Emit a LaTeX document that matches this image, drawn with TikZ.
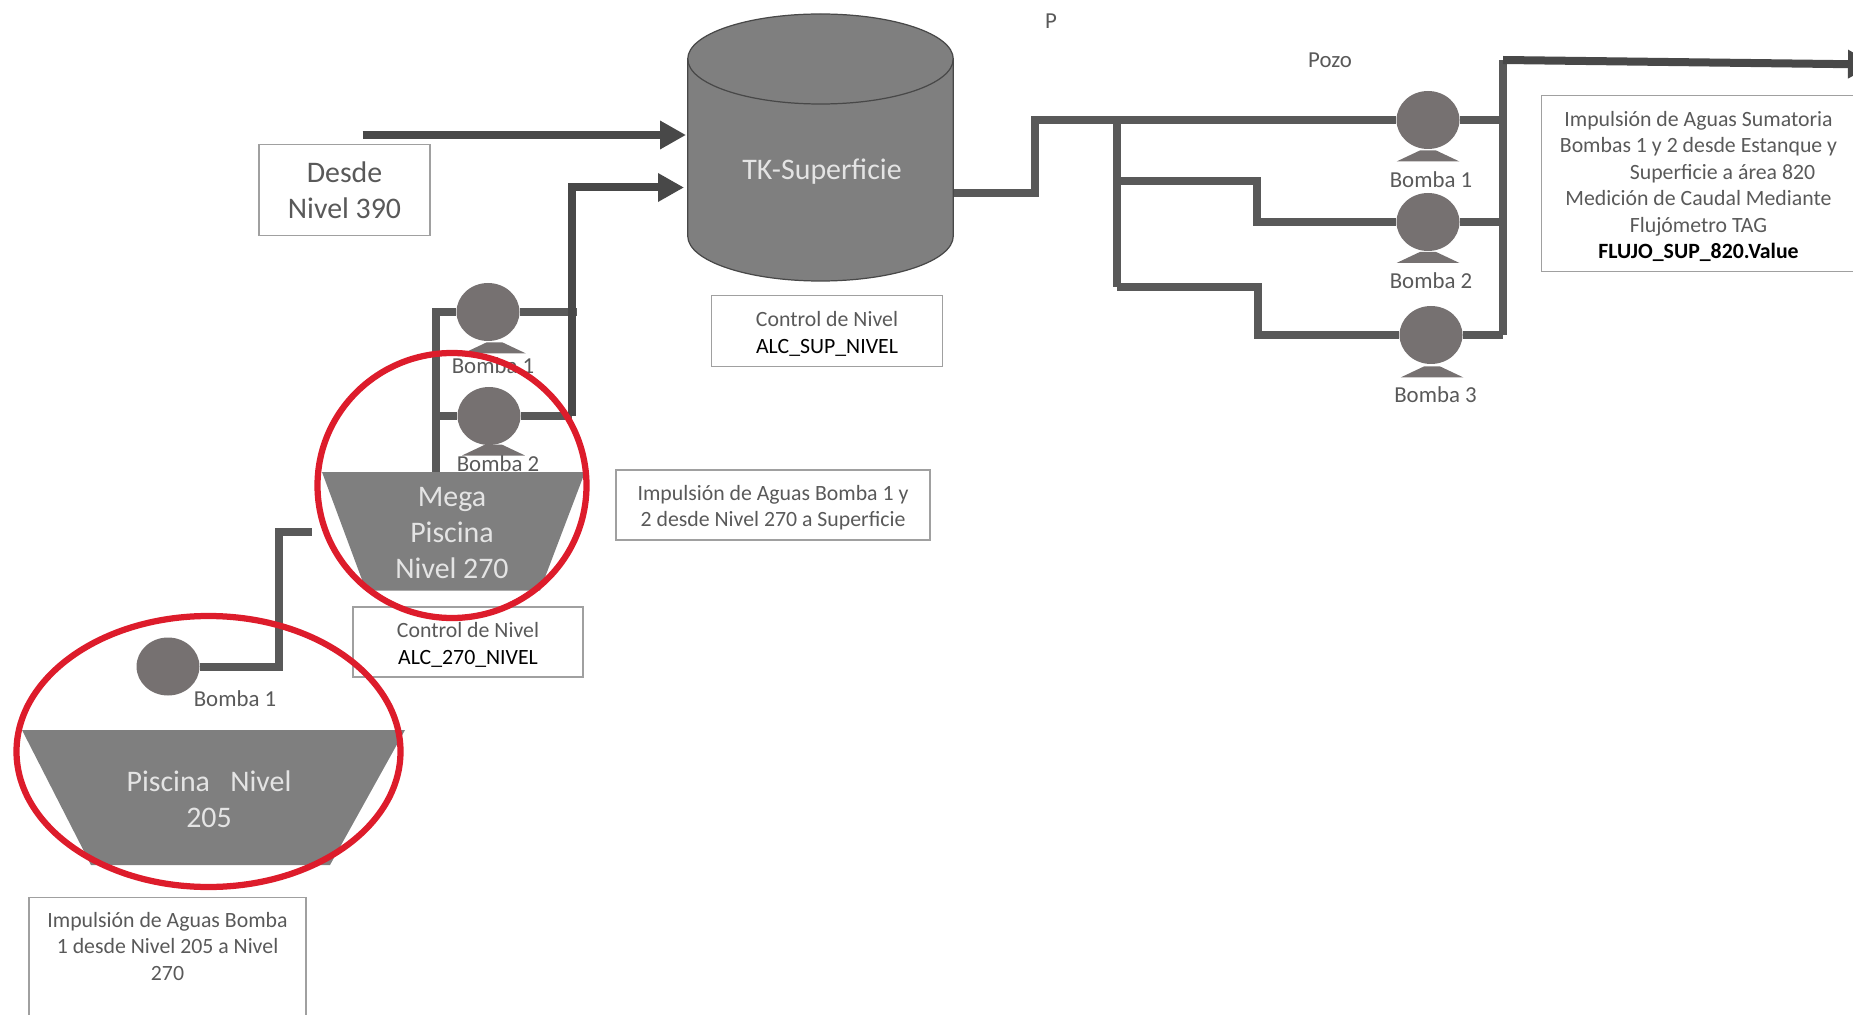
\documentclass[tikz,border=0pt]{standalone}
\usepackage{fontspec}
\setmainfont{Carlito}
\usetikzlibrary{arrows.meta}
\usetikzlibrary{shapes.geometric}
\definecolor{tubo}{HTML}{595959}
\definecolor{flecha}{HTML}{484848}
\definecolor{estanque}{HTML}{7F7F7F}
\definecolor{bomba}{HTML}{767171}
\definecolor{borde}{HTML}{A0A0A0}
\definecolor{texto}{HTML}{595959}
\definecolor{claro}{HTML}{E4E4E4}
\definecolor{rojo}{HTML}{DD1C2B}
\newcommand{\altura}{\rule{0pt}{12pt}}
\tikzset{
  tuberia/.style={draw=tubo, line width=0.16cm},
  entrada/.style={draw=flecha, line width=0.16cm, -{Triangle[length=0.52cm,width=0.54cm]}},
  caja/.style={draw=borde, line width=0.8pt, align=center, text=texto, inner sep=0pt, font=\fontsize{12.4}{15}\selectfont},
  rotulo/.style={text=texto, inner sep=0pt, font=\fontsize{13}{15}\selectfont},
  motor/.style={ellipse, fill=bomba, inner sep=0pt, minimum width=1.26cm, minimum height=1.16cm},
  pata/.style={trapezium, fill=bomba, inner sep=1pt, trapezium stretches=true, trapezium angle=35, minimum width=1.26cm, minimum height=0.22cm},
  estanquefig/.style={fill=estanque},
  leyenda/.style={align=center, text=claro, inner sep=0pt, font=\fontsize{17}{20.4}\selectfont},
  tapa/.style={draw=flecha, line width=0.7pt},
  marca/.style={ellipse, draw=rojo, line width=0.125cm, inner sep=0pt}
}
\begin{document}
\begin{tikzpicture}
        \useasboundingbox (0,0) rectangle (37.06,-20.3);
        \clip (0,0) rectangle (37.06,-20.3);

        \filldraw[tapa, fill=estanque] (13.755,-1.18) arc[start angle=180, end angle=0, x radius=2.655, y radius=0.9] -- (19.065,-4.72) arc[start angle=0, end angle=-180, x radius=2.655, y radius=0.9] -- cycle;
        \draw[tapa] (13.755,-1.18) arc[start angle=180, end angle=360, x radius=2.655, y radius=0.9];
        \node[leyenda] at (16.44,-3.43) (tknombre){TK-Superficie};
        \node[caja, minimum width=3.42cm, minimum height=1.82cm, font=\fontsize{17}{20.4}\selectfont] at (6.89,-3.8) (desde){Desde\\Nivel 390};
        \node[caja, minimum width=4.61cm, minimum height=1.41cm] at (16.54,-6.62) (ctrlsup){\altura Control de Nivel\\\textcolor{black}{ALC\_SUP\_NIVEL}};
        \node[caja, minimum width=6.28cm, minimum height=1.4cm] at (15.46,-10.1) (imp270){\altura Impulsión de Aguas Bomba 1 y\\2 desde Nivel 270 a Superficie};
        \node[caja, minimum width=4.6cm, minimum height=1.4cm] at (9.36,-12.84) (ctrl270){\altura Control de Nivel\\\textcolor{black}{ALC\_270\_NIVEL}};
        \node[caja, anchor=north, minimum width=5.54cm, minimum height=3cm] at (3.35,-17.94) (imp205){Impulsión de Aguas Bomba\\1 desde Nivel 205 a Nivel\\270\\~\\~};
        \node[caja, minimum width=6.28cm, minimum height=3.53cm] at (33.97,-3.67) (imp820){\altura Impulsión de Aguas Sumatoria\\Bombas 1 y 2 desde Estanque y\\\hspace*{0.96cm}Superficie a área 820\\Medición de Caudal Mediante\\Flujómetro TAG\\\textcolor{black}{\textbf{FLUJO\_SUP\_820.Value}}};

        \node[motor] at (3.36,-13.33) (b205){};
        \node[motor] at (9.76,-6.24) (b1n270){};
        \node[motor] at (9.78,-8.32) (b2n270){};
        \node[motor] at (28.56,-2.4) (b1sup){};
        \node[motor] at (28.56,-4.44) (b2sup){};
        \node[motor] at (28.62,-6.7) (b3sup){};
        \node[pata] at (9.89,-6.96) (p1n270){};
        \node[pata] at (9.87,-9.0) (p2n270){};
        \node[pata] at (28.56,-3.12) (p1sup){};
        \node[pata] at (28.56,-5.15) (p2sup){};
        \node[pata] at (28.64,-7.44) (p3sup){};

        \coordinate (codo205) at (5.58,-10.64);
        \coordinate (fin205) at (6.24,-10.64);
        \draw[tuberia] (b205) -| (codo205) -- (fin205);

        \coordinate (col270) at (8.72,-9.44);
        \coordinate (junta1) at (11.54,-6.24);
        \coordinate (junta2) at (11.43,-8.32);
        \coordinate (col270b) at (8.72,-8.32);
        \coordinate (llega2) at (13.68,-3.75);
        \draw[tuberia] (col270) |- (b1n270);
        \draw[tuberia] (col270b) -- (b2n270);
        \draw[tuberia] (b1n270) -- (junta1);
        \draw[tuberia] (b2n270) -- (junta2);
        \draw[entrada] (junta2) |- (llega2);

        \coordinate (sale390) at (7.25,-2.7);
        \coordinate (llega1) at (13.72,-2.7);
        \draw[entrada] (sale390) -- (llega1);

        \coordinate (saletk) at (19.07,-3.86);
        \coordinate (codosal) at (20.7,-2.4);
        \coordinate (ramaa) at (22.34,-2.4);
        \coordinate (ramab) at (22.34,-3.62);
        \coordinate (ramac) at (22.34,-5.74);
        \coordinate (codob) at (25.14,-4.44);
        \coordinate (codoc) at (25.16,-6.7);
        \coordinate (mani1) at (30.06,-2.4);
        \coordinate (mani2) at (30.06,-4.44);
        \coordinate (mani3) at (30.06,-6.7);
        \coordinate (maniarr) at (30.06,-1.2);
        \coordinate (fin820) at (37.48,-1.29);
        \draw[tuberia] (saletk) -| (codosal) -- (b1sup);
        \draw[tuberia] (ramaa) -- (ramac);
        \draw[tuberia] (ramab) -| (codob) -- (b2sup);
        \draw[tuberia] (ramac) -| (codoc) -- (b3sup);
        \draw[tuberia] (b1sup) -- (mani1);
        \draw[tuberia] (b2sup) -- (mani2);
        \draw[tuberia] (b3sup) -- (mani3);
        \draw[tuberia] (mani3) -- (maniarr);
        \draw[entrada] (maniarr) -- (fin820);

        \fill[estanquefig] (0.44,-14.6) -- (8.1,-14.6) -- (6.6,-17.3) -- (1.82,-17.3) -- cycle;
        \fill[estanquefig] (6.44,-9.44) -- (11.7,-9.44) -- (10.8,-11.81) -- (7.32,-11.81) -- cycle;
        \node[leyenda] at (4.18,-15.98) (pis205){Piscina\ \ \ Nivel\\205};
        \node[leyenda] at (9.04,-10.66) (pis270){Mega\\Piscina\\Nivel 270};

        \node[rotulo] at (4.7,-13.97) (et205){Bomba 1};
        \node[rotulo] at (9.86,-7.32) (et1n270){Bomba 1};
        \node[rotulo] at (9.96,-9.27) (et2n270){Bomba 2};
        \node[rotulo] at (28.62,-3.6) (et1sup){Bomba 1};
        \node[rotulo] at (28.62,-5.62) (et2sup){Bomba 2};
        \node[rotulo] at (28.71,-7.9) (et3sup){Bomba 3};
        \node[rotulo] at (26.6,-1.2) (pozo){Pozo};
        \node[rotulo] at (21.02,-0.43) (letrap){P};

        \node[marca, minimum width=7.68cm, minimum height=5.42cm] at (4.17,-15.03) (marca205){};
        \node[marca, minimum width=5.38cm, minimum height=5.3cm] at (9.04,-9.71) (marca270){};
      \end{tikzpicture}
\end{document}
